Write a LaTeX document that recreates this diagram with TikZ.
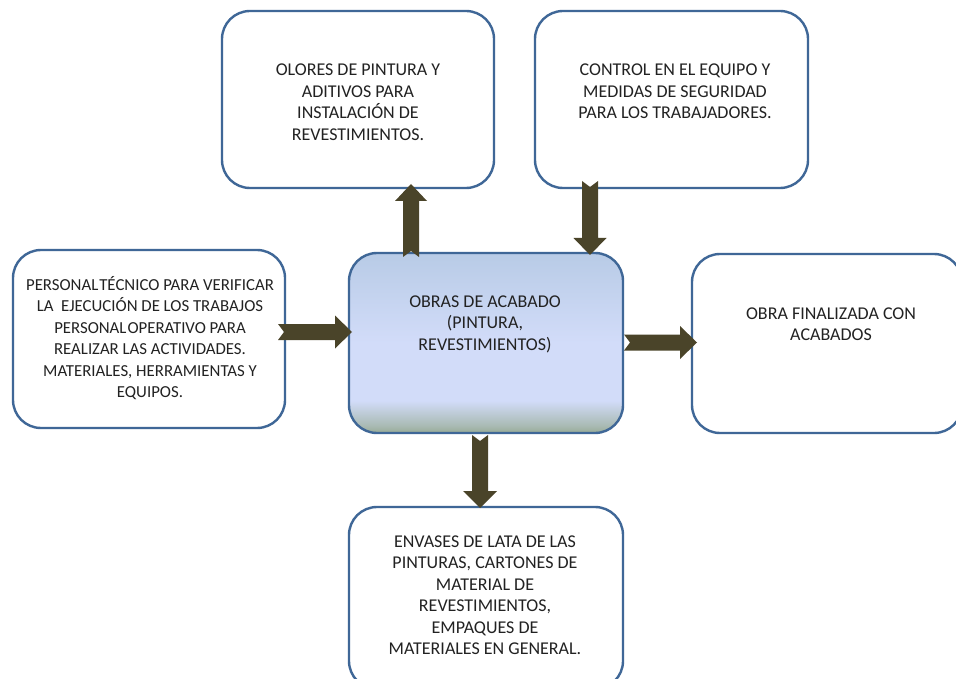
\documentclass[tikz,border=0pt]{standalone}
\usepackage{fontspec}
\setmainfont{Carlito}
\usetikzlibrary{calc}
\definecolor{boxline}{HTML}{3F6797}
\definecolor{arrowcol}{HTML}{4A4429}
\definecolor{txt}{HTML}{222222}
\definecolor{shTop}{HTML}{B8CBE6}
\definecolor{shMid}{HTML}{D2DCF9}
\definecolor{shBot}{HTML}{97AB95}
\pgfdeclareverticalshading{ctrshade}{100bp}{color(0bp)=(shBot); color(25bp)=(shBot); color(27bp)=(shBot!70!shMid); color(34bp)=(shMid); color(50bp)=(shMid); color(75bp)=(shTop); color(100bp)=(shTop)}
\newcommand{\notcharrow}[4]{%
  \begin{scope}[shift={(#1)}, rotate=#2]
    \fill[arrowcol] (0,8) -- ({#3-17},8) -- ({#3-17},#4) -- (#3,0) -- ({#3-17},-#4) -- ({#3-17},-8) -- (0,-8) -- (6,0) -- cycle;
  \end{scope}}
\tikzset{
  boxnode/.style={draw=boxline, line width=2.4pt, rounded corners=28pt, fill=white, inner sep=0pt},
  txtnode/.style={anchor=base, align=center, inner sep=0pt, text=txt, font=\fontsize{18}{21.5}\selectfont},
  smalltxt/.style={font=\fontsize{16.8}{21.5}\selectfont}
}
\begin{document}
\begin{tikzpicture}[x=1pt, y=-1pt]
\useasboundingbox (0,0) rectangle (956,679);
\fill[white] (0,0) rectangle (956,679);
\clip (0,0) rectangle (956,679);
% boxes
\node[boxnode, minimum width=272pt, minimum height=177pt] (tl) at (358,99.5) {};
\node[boxnode, minimum width=273pt, minimum height=177pt] (tr) at (671.5,99.5) {};
\node[boxnode, minimum width=272pt, minimum height=178pt] (lb) at (149,339) {};
\node[boxnode, shading=ctrshade, minimum width=274pt, minimum height=180pt] (ctr) at (486,343) {};
\node[boxnode, minimum width=270pt, minimum height=179pt] (rb) at (827,343.5) {};
\node[boxnode, minimum width=274pt, minimum height=182pt] (bb) at (486,598) {};
% texts (anchored at the baseline of the last line)
\node[txtnode] (tlt) at (358,140.5) {OLORES DE PINTURA Y\\ADITIVOS PARA\\INSTALACIÓN DE\\REVESTIMIENTOS.};
\node[txtnode] (trt) at (675,119) {CONTROL EN EL EQUIPO Y\\MEDIDAS DE SEGURIDAD\\PARA LOS TRABAJADORES.};
\node[txtnode, smalltxt] (lbt) at (150,397.5) {PERSONAL\hspace{0.06em}TÉCNICO PARA VERIFICAR\\LA\ \ EJECUCIÓN DE LOS TRABAJOS\\PERSONAL\hspace{0.06em}OPERATIVO PARA\\REALIZAR LAS ACTIVIDADES.\\MATERIALES, HERRAMIENTAS Y\\EQUIPOS.};
\node[txtnode] (ctrt) at (485,350) {OBRAS DE ACABADO\\(PINTURA,\\REVESTIMIENTOS)};
\node[txtnode] (rbt) at (831,340.5) {OBRA FINALIZADA CON\\ACABADOS};
\node[txtnode] (bbt) at (485,654.5) {ENVASES DE LATA DE LAS\\PINTURAS, CARTONES DE\\MATERIAL DE\\REVESTIMIENTOS,\\EMPAQUES DE\\MATERIALES EN GENERAL.};
% arrow tails
\coordinate (aUp) at (411,257);
\coordinate (aDown) at (590,181);
\coordinate (aLeft) at (278,332);
\coordinate (aRight) at (624,342.5);
\coordinate (aBottom) at (480,435);
\notcharrow{aUp}{90}{73}{16}
\notcharrow{aDown}{-90}{74}{16.5}
\notcharrow{aLeft}{0}{74}{16.5}
\notcharrow{aRight}{0}{73}{16.5}
\notcharrow{aBottom}{-90}{73}{17}
\end{tikzpicture}
\end{document}
